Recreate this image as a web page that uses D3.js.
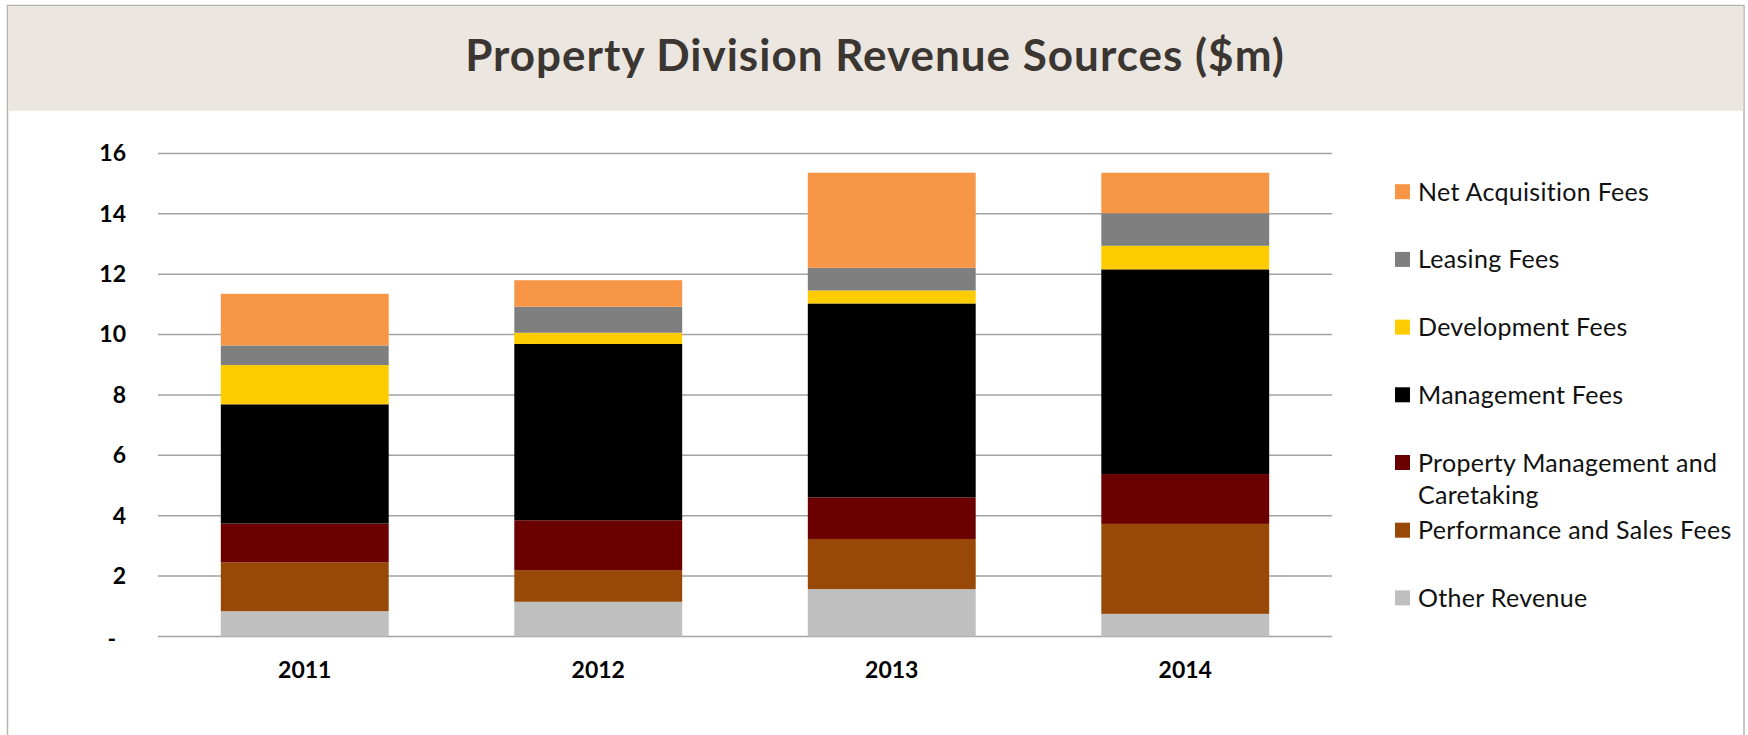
<!DOCTYPE html>
<html>
<head>
<meta charset="utf-8">
<script src="https://cdn.jsdelivr.net/npm/d3@7"></script>
<style>
  body { margin: 0; background: #fff; }
  svg { display: block; font-family: Lato, "Open Sans", sans-serif; }
</style>
</head>
<body>
<div id="chart"></div>
<script>
// data ($m)
var years = ["2011", "2012", "2013", "2014"];
var series = ["Other Revenue", "Performance and Sales Fees", "Property Management and Caretaking",
  "Management Fees", "Development Fees", "Leasing Fees", "Net Acquisition Fees"];
var otherRevenue   = [0.84, 1.15, 1.57, 0.75];
var performance    = [1.62, 1.05, 1.66, 2.98];
var propertyMgmt   = [1.28, 1.65, 1.38, 1.65];
var managementFees = [3.95, 5.84, 6.42, 6.78];
var development    = [1.30, 0.37, 0.43, 0.78];
var leasing        = [0.65, 0.86, 0.75, 1.08];
var netAcquisition = [1.71, 0.88, 3.15, 1.34];
var yTicks = [0, 2, 4, 6, 8, 10, 12, 14, 16];

var colores = ["#bfbfbf", "#984807", "#6b0000", "#000000", "#ffcc00", "#7f7f7f", "#f79646"];
var valores = [otherRevenue, performance, propertyMgmt, managementFees, development, leasing, netAcquisition];

dibujar();
function dibujar(){
	var ancho = 1748, alto = 735;
	var plot = {left: 158, right: 1332, top: 153.4, bottom: 636.5};

	var svg = d3.select("#chart").append("svg")
		.attr("width", ancho).attr("height", alto);

	// marco y banda de titulo
	svg.append("rect").attr("x", 7.5).attr("y", 5.5).attr("width", 1736.5).attr("height", 740)
		.style("fill", "#fff").style("stroke", "#b8b4ae").style("stroke-width", 1.5);
	svg.append("rect").attr("x", 8.25).attr("y", 6.25).attr("width", 1735).attr("height", 104.5)
		.style("fill", "#ebe6e0");
	svg.append("text").attr("x", 875).attr("y", 71)
		.attr("text-anchor", "middle")
		.style("font-size", "44px").style("font-weight", "700").style("fill", "#3b3631")
		.style("letter-spacing", "1px")
		.text("Property Division Revenue Sources ($m)");

	// tabla para el stack
	var tabla = years.map(function(y, i){
		var fila = {year: y};
		series.forEach(function(s, j){ fila[s] = valores[j][i]; });
		return fila;
	});
	var pilas = d3.stack().keys(series)(tabla);

	var x = d3.scaleBand().domain(years)
		.range([plot.left, plot.right])
		.paddingInner(0.428).paddingOuter(0.214);
	var y = d3.scaleLinear().domain([0, 16]).range([plot.bottom, plot.top]);

	// rejilla
	svg.append("g").selectAll("line").data(yTicks).enter().append("line")
		.attr("x1", plot.left).attr("x2", plot.right)
		.attr("y1", d => y(d)).attr("y2", d => y(d))
		.style("stroke", "#a3a3a3").style("stroke-width", 1.5);

	// barras
	svg.append("g").selectAll("g").data(pilas).enter().append("g")
		.style("fill", (d, i) => colores[i])
		.selectAll("rect").data(d => d).enter().append("rect")
		.attr("x", d => x(d.data.year))
		.attr("width", x.bandwidth())
		.attr("y", d => y(d[1]))
		.attr("height", d => y(d[0]) - y(d[1]));

	// eje y
	var ejeY = svg.append("g").attr("transform", `translate(${plot.left},0)`)
		.call(d3.axisLeft(y).tickValues(yTicks).tickSize(0).tickPadding(32)
			.tickFormat(d => d === 0 ? "-" : d));
	ejeY.select(".domain").remove();
	ejeY.selectAll("text")
		.style("font-family", "Lato, sans-serif").style("font-size", "23px")
		.style("font-weight", "700").style("fill", "#000");
	ejeY.selectAll(".tick").filter(d => d === 0).select("text")
		.attr("dx", -10).attr("dy", "0.42em");

	// eje x
	var ejeX = svg.append("g").attr("transform", `translate(0,${plot.bottom})`)
		.call(d3.axisBottom(x).tickSize(0).tickPadding(25));
	ejeX.select(".domain").remove();
	ejeX.selectAll("text")
		.style("font-family", "Lato, sans-serif").style("font-size", "23px")
		.style("font-weight", "700").style("fill", "#000");

	// leyenda (de arriba a abajo, orden inverso al stack)
	var leyenda = [
		{nombre: ["Net Acquisition Fees"], c: 6},
		{nombre: ["Leasing Fees"], c: 5},
		{nombre: ["Development Fees"], c: 4},
		{nombre: ["Management Fees"], c: 3},
		{nombre: ["Property Management and", "Caretaking"], c: 2},
		{nombre: ["Performance and Sales Fees"], c: 1},
		{nombre: ["Other Revenue"], c: 0}
	];
	var items = svg.append("g").selectAll("g").data(leyenda).enter().append("g")
		.attr("transform", (d, i) => `translate(1395,${191.7 + i * 67.7})`);
	items.append("rect").attr("x", 0).attr("y", -7.5).attr("width", 15).attr("height", 15)
		.style("fill", d => colores[d.c]);
	items.append("text").attr("x", 23).attr("y", 0)
		.style("font-size", "25px").style("fill", "#111").style("letter-spacing", "0.3px")
		.selectAll("tspan").data(d => d.nombre).enter().append("tspan")
		.attr("x", 23).attr("dy", (d, i) => i === 0 ? "0.36em" : "32px")
		.text(d => d);
}
</script>
</body>
</html>
